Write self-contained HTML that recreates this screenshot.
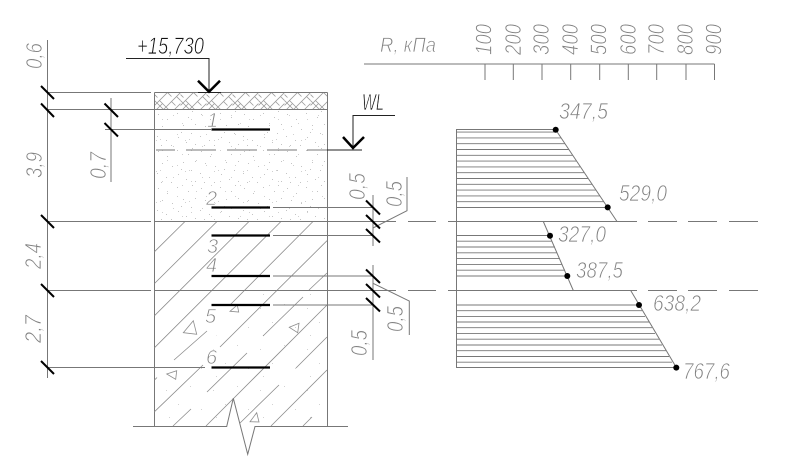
<!DOCTYPE html>
<html><head><meta charset="utf-8"><style>
html,body{margin:0;padding:0;background:#fff}
svg{display:block}
text{font-family:"Liberation Sans","DejaVu Sans",sans-serif;font-style:italic;font-size:23px;fill:#808080;stroke:#fff;stroke-width:.7px;paint-order:fill stroke}
.d{fill:#111;stroke-width:.7px}
.l{fill:none;stroke:#777;stroke-width:1}
.t{fill:none;stroke:#8c8c8c;stroke-width:.8}
.k{fill:none;stroke:#000;stroke-width:2.2}
.b{fill:none;stroke:#000;stroke-width:2}
</style></head><body>
<svg width="790" height="474" viewBox="0 0 790 474" xmlns="http://www.w3.org/2000/svg">
<defs>
<pattern id="hb" width="26" height="17" patternUnits="userSpaceOnUse" x="154.5" y="92.5">
<path d="M0 13L13 0M9 17L26 0M2 17L8 11M13 0L17 4M5 8L14 17M22 4L26 8M0 8L9 17M20 17L26 11M0 2L3 5M17 9L21 13" fill="none" stroke="#999" stroke-width=".8"/>
</pattern>
<pattern id="st" width="43" height="37" patternUnits="userSpaceOnUse" x="155" y="110">
<g fill="#c4c4c4"><rect x="3" y="4" width="1" height="1"/><rect x="12" y="9" width="1" height="1"/><rect x="22" y="3" width="1" height="1"/><rect x="33" y="7" width="1" height="1"/><rect x="40" y="14" width="1" height="1"/><rect x="7" y="16" width="1" height="1"/><rect x="17" y="19" width="1" height="1"/><rect x="28" y="15" width="1" height="1"/><rect x="36" y="23" width="1" height="1"/><rect x="2" y="26" width="1" height="1"/><rect x="11" y="30" width="1" height="1"/><rect x="23" y="27" width="1" height="1"/><rect x="31" y="32" width="1" height="1"/><rect x="40" y="34" width="1" height="1"/><rect x="16" y="35" width="1" height="1"/><rect x="26" y="22" width="1" height="1"/><rect x="6" y="35" width="1" height="1"/><rect x="37" y="1" width="1" height="1"/></g>
</pattern>
<pattern id="st3" width="29" height="31" patternUnits="userSpaceOnUse" x="158" y="112">
<g fill="#d0d0d0"><rect x="4" y="7" width="1" height="1"/><rect x="15" y="3" width="1" height="1"/><rect x="24" y="11" width="1" height="1"/><rect x="9" y="17" width="1" height="1"/><rect x="19" y="22" width="1" height="1"/><rect x="2" y="27" width="1" height="1"/><rect x="27" y="28" width="1" height="1"/></g>
</pattern>
<pattern id="st2" width="47" height="41" patternUnits="userSpaceOnUse" x="160" y="300">
<g fill="#d2d2d2"><rect x="6" y="8" width="1" height="1"/><rect x="30" y="4" width="1" height="1"/><rect x="18" y="22" width="1" height="1"/><rect x="41" y="27" width="1" height="1"/><rect x="9" y="35" width="1" height="1"/></g>
</pattern>
</defs>

<!-- soil fills -->
<rect x="155" y="93" width="172" height="16.5" fill="url(#hb)"/>
<rect x="155" y="110" width="172" height="111" fill="url(#st)"/>
<rect x="155" y="110" width="172" height="111" fill="url(#st3)"/>
<path d="M155 426V400L260 290H327V426Z" fill="url(#st2)"/>

<!-- column outline -->
<path class="l" d="M154.5 92.5V426M327.5 92.5V426M154.5 92.5H327.5M154.5 109.5H327.5"/>

<!-- diagonal hatch -->
<path class="t" d="M154.5 251.7L185 221.5M154.5 283.5L217 221.5M154.5 315.7L249 221.5M154.5 347.7L281 221.5M154.5 380L157 377.5M174 360L207 331M230 305L313 221.5M154.5 411.7L203 365M220 347L327 240.7M173 426L191 409M207 392L247 353M263 336L303 297M309 290L327 273M206 426L327 305M240 423L279 385M296 368L327 337M271 426L327 370M303 426L312 417"/>

<!-- triangles -->
<path class="t" d="M183.3 332.7L193.3 320.7L196.7 334.3ZM230 311.3L237.3 305L238.7 312ZM289.3 327.3L299 323.3L297.7 332.7ZM166.7 374L176.7 370.7L175.7 379.3ZM250 421.7L256.7 412.7L259 422Z"/>

<!-- ground with break -->
<path class="l" d="M133 426.5H226.7L233.3 398.3L247.7 454.3L255 426.5H348"/>

<!-- level lines -->
<path class="l" d="M47 92.5H151M47 109.5H327M105 129.5H211M47 221.5H151M154 221.5H396M408 221.5H436M448 221.5H637M648 221.5H677M688 221.5H717M729 221.5H758M47 290.5H151M154 290.5H396M408 290.5H436M448 290.5H637M648 290.5H677M688 290.5H717M729 290.5H758M47 367.5H205"/>
<path class="l" d="M273 207.5H373M273 235.5H373M273 276H373M273 305H373"/>

<!-- dimension verticals -->
<path class="l" d="M47.5 40V378M111 98V182M373 195V246M373 265V360"/>
<path class="l" d="M373 228L407 210.7V177M373 283.3L409.3 301V335"/>

<!-- ticks -->
<path class="b" d="M41 86L54 99M41 103.5L54 117M41 215L54 228M41 284L54 297M41 361L54 374M104.5 103.5L118 117M104.5 123L118 136.5M366 200.5L380 214.5M366 215L380 228.5M366 229L380 242.5M366 269.5L380 283M366 284L380 297.5M366 298L380 311.5"/>

<!-- sample bars -->
<path class="k" d="M211.5 129.5H270M211.5 207.5H270M211.5 235.5H270M211.5 276H270M211.5 305H270M211.5 367.5H270"/>

<!-- elevation marker -->
<path fill="none" stroke="#222" stroke-width="1" d="M126 58.5H209V92M198 92.5H221"/>
<path fill="none" stroke="#000" stroke-width="2.5" d="M198 80.7L209 91.7L220 80.7"/>

<!-- WL marker -->
<path fill="none" stroke="#222" stroke-width="1" d="M395 115.5H353V149M327 150H362"/>
<path fill="none" stroke="#000" stroke-width="2.5" d="M343 137L353 148L364 137"/>
<path class="l" d="M156 150H175M186 150H216M227 150H257M267 150H297M307 150H327"/>

<!-- R axis -->
<path class="l" d="M364 64H714.5M485 64V80M513.3 64V80M542 64V80M570.7 64V80M599.7 64V80M628.3 64V80M656.7 64V80M686 64V80M714.5 64V80"/>

<!-- resistance diagram -->
<path class="l" d="M456.5 129.5V367.5M456 129.5H555M617 221.5L555.5 129.5M543.3 221.5L573.3 290.5M630.7 290.5L676.3 367.5"/>
<path fill="none" stroke="#777" stroke-width=".9" d="M456 132.1H557M456 137.9H561M456 143.7H565M456 149.5H569M456 155.3H573M456 161.1H577M456 166.9H580M456 172.7H584M456 178.5H588M456 184.3H592M456 190.1H596M456 195.9H600M456 201.7H604M456 207.5H608
M456 235.5H550M456 241.2H552M456 247H555M456 252.8H557M456 258.6H560M456 264.4H562M456 270.2H565M456 276H567
M456 305H639M456 310.7H642M456 316.4H645M456 322H649M456 327.7H652M456 333.4H655M456 339.2H659M456 345H662M456 350.7H666M456 356.5H669M456 362.2H672M456 367.5H676"/>
<g fill="#000"><circle cx="555.7" cy="129.7" r="3"/><circle cx="607.7" cy="207.4" r="3"/><circle cx="550" cy="235.7" r="3"/><circle cx="567.3" cy="276" r="3"/><circle cx="639" cy="305" r="3"/><circle cx="676.3" cy="367.6" r="3"/></g>

<!-- labels -->
<text class="d" x="137" y="54" textLength="67" lengthAdjust="spacingAndGlyphs" style="font-size:24px">+15,730</text>
<text class="d" x="362" y="110" textLength="22" lengthAdjust="spacingAndGlyphs" style="font-size:23px">WL</text>
<text x="380" y="52" textLength="56" lengthAdjust="spacingAndGlyphs" style="font-size:21px">R, кПа</text>

<text x="559" y="119" textLength="49" lengthAdjust="spacingAndGlyphs">347,5</text>
<text x="619" y="201" textLength="48" lengthAdjust="spacingAndGlyphs">529,0</text>
<text x="558" y="242" textLength="48" lengthAdjust="spacingAndGlyphs">327,0</text>
<text x="576" y="278" textLength="47" lengthAdjust="spacingAndGlyphs">387,5</text>
<text x="653" y="311" textLength="48" lengthAdjust="spacingAndGlyphs">638,2</text>
<text x="683" y="379" textLength="47" lengthAdjust="spacingAndGlyphs">767,6</text>

<text x="207" y="127" style="font-size:20px">1</text>
<text x="206" y="205" style="font-size:20px">2</text>
<text x="207" y="253" style="font-size:20px">3</text>
<text x="206" y="272" style="font-size:20px">4</text>
<text x="205" y="323" style="font-size:20px">5</text>
<text x="206" y="364" style="font-size:20px">6</text>

<g style="font-size:22px">
<text transform="translate(42 69) rotate(-90)" textLength="26" lengthAdjust="spacingAndGlyphs">0,6</text>
<text transform="translate(42 178) rotate(-90)" textLength="26" lengthAdjust="spacingAndGlyphs">3,9</text>
<text transform="translate(41 269) rotate(-90)" textLength="26" lengthAdjust="spacingAndGlyphs">2,4</text>
<text transform="translate(41 343) rotate(-90)" textLength="28" lengthAdjust="spacingAndGlyphs">2,7</text>
<text transform="translate(106 179) rotate(-90)" textLength="27" lengthAdjust="spacingAndGlyphs">0,7</text>
<text transform="translate(365 200) rotate(-90)" textLength="27" lengthAdjust="spacingAndGlyphs">0,5</text>
<text transform="translate(402 207) rotate(-90)" textLength="26" lengthAdjust="spacingAndGlyphs">0,5</text>
<text transform="translate(403 332) rotate(-90)" textLength="26" lengthAdjust="spacingAndGlyphs">0,5</text>
<text transform="translate(367 356) rotate(-90)" textLength="26" lengthAdjust="spacingAndGlyphs">0,5</text>

<text transform="translate(491.5 55) rotate(-90)" textLength="31" lengthAdjust="spacingAndGlyphs">100</text>
<text transform="translate(521 55) rotate(-90)" textLength="31" lengthAdjust="spacingAndGlyphs">200</text>
<text transform="translate(549 55) rotate(-90)" textLength="31" lengthAdjust="spacingAndGlyphs">300</text>
<text transform="translate(578 55) rotate(-90)" textLength="31" lengthAdjust="spacingAndGlyphs">400</text>
<text transform="translate(606.5 55) rotate(-90)" textLength="31" lengthAdjust="spacingAndGlyphs">500</text>
<text transform="translate(636 55) rotate(-90)" textLength="31" lengthAdjust="spacingAndGlyphs">600</text>
<text transform="translate(664 55) rotate(-90)" textLength="31" lengthAdjust="spacingAndGlyphs">700</text>
<text transform="translate(693 55) rotate(-90)" textLength="31" lengthAdjust="spacingAndGlyphs">800</text>
<text transform="translate(721.5 55) rotate(-90)" textLength="31" lengthAdjust="spacingAndGlyphs">900</text>
</g>
</svg>
</body></html>
